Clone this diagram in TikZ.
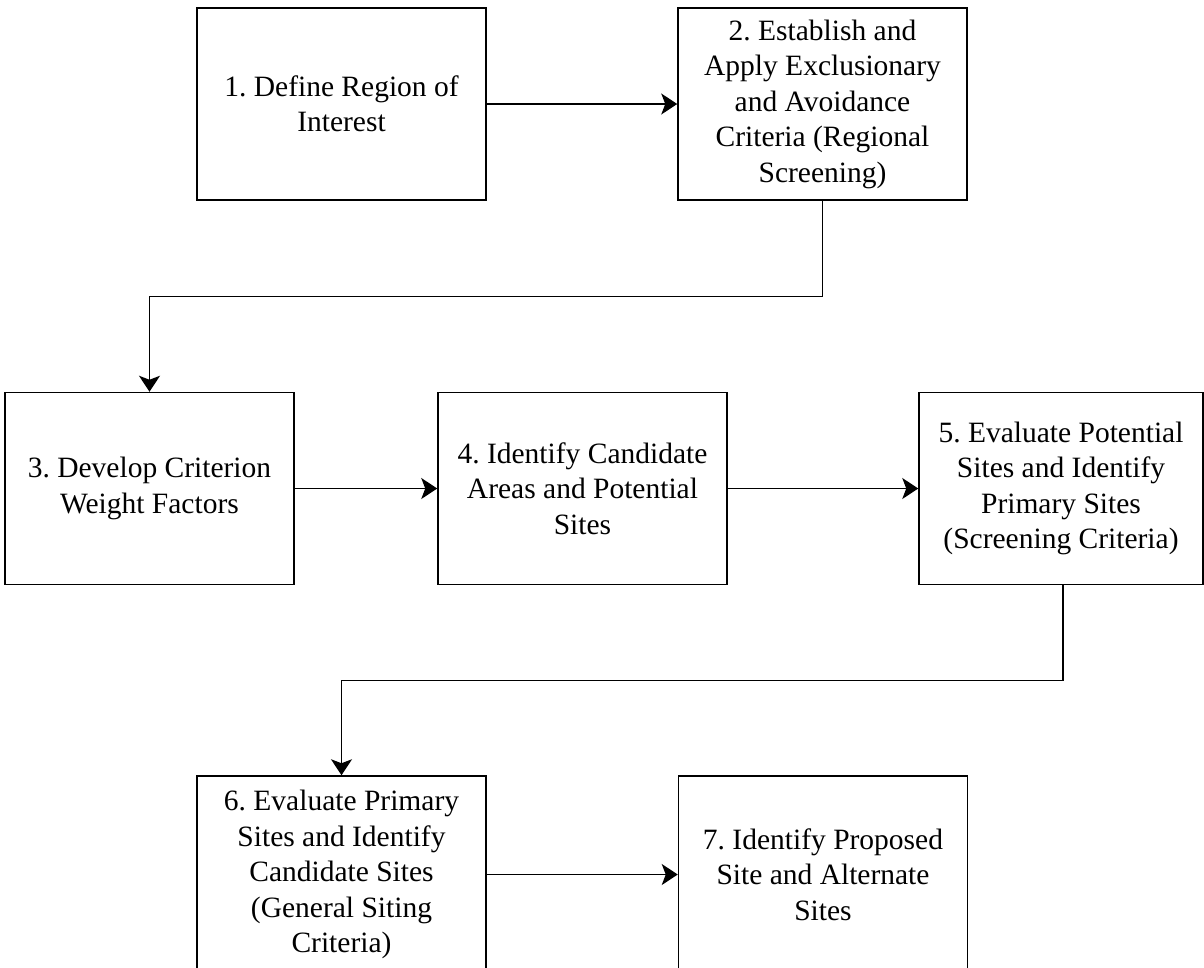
\documentclass[tikz,border=0pt]{standalone}
\usepackage{fontspec}
\setmainfont{Liberation Serif}
\usetikzlibrary{arrows.meta}
\frenchspacing
\begin{document}
\begin{tikzpicture}[x=1pt,y=-1pt,
  stepbox/.style={draw=black, line width=1.5pt, fill=white, minimum width=289pt, minimum height=192pt, inner sep=0pt, align=center, font=\fontsize{29.5}{35.5}\selectfont},
  arr/.style={draw=black, line width=1.5pt, -{Stealth[length=16pt,width=21pt,inset=4pt]}},
  conn/.style={draw=black, line width=1.5pt}]
\useasboundingbox (0,0) rectangle (1204,967);
\node[stepbox] (b1) at (341.5,104) {1. Define Region of\\Interest};
\node[stepbox] (b2) at (822.5,104) {2. Establish and\\Apply Exclusionary\\and Avoidance\\Criteria (Regional\\Screening)};
\node[stepbox] (b3) at (149.5,488.5) {3. Develop Criterion\\Weight Factors};
\node[stepbox] (b4) at (582.5,488.5) {4. Identify Candidate\\Areas and Potential\\Sites};
\node[stepbox, minimum width=284pt] (b5) at (1061,488.5) {5. Evaluate Potential\\Sites and Identify\\Primary Sites\\(Screening Criteria)};
\node[stepbox, minimum height=197pt] (b6) at (341.5,874.5) {6. Evaluate Primary\\Sites and Identify\\Candidate Sites\\(General Siting\\Criteria)};
\node[stepbox, minimum height=197pt] (b7) at (823,874.5) {7. Identify Proposed\\Site and Alternate\\Sites};
\coordinate (e1) at (0,296.7);
\coordinate (e2) at (0,680.7);
\draw[arr] (b1.east) -- (b2.west);
\draw[arr] (b2.south) -- (b2.south |- e1) -| (b3.north);
\draw[arr] (b3.east) -- (b4.west);
\draw[arr] (b4.east) -- (b5.west);
\draw[arr] ([xshift=2pt]b5.south) -- ([xshift=2pt]b5.south |- e2) -| (b6.north);
\draw[arr] (b6.east) -- (b7.west);
\end{tikzpicture}
\end{document}
